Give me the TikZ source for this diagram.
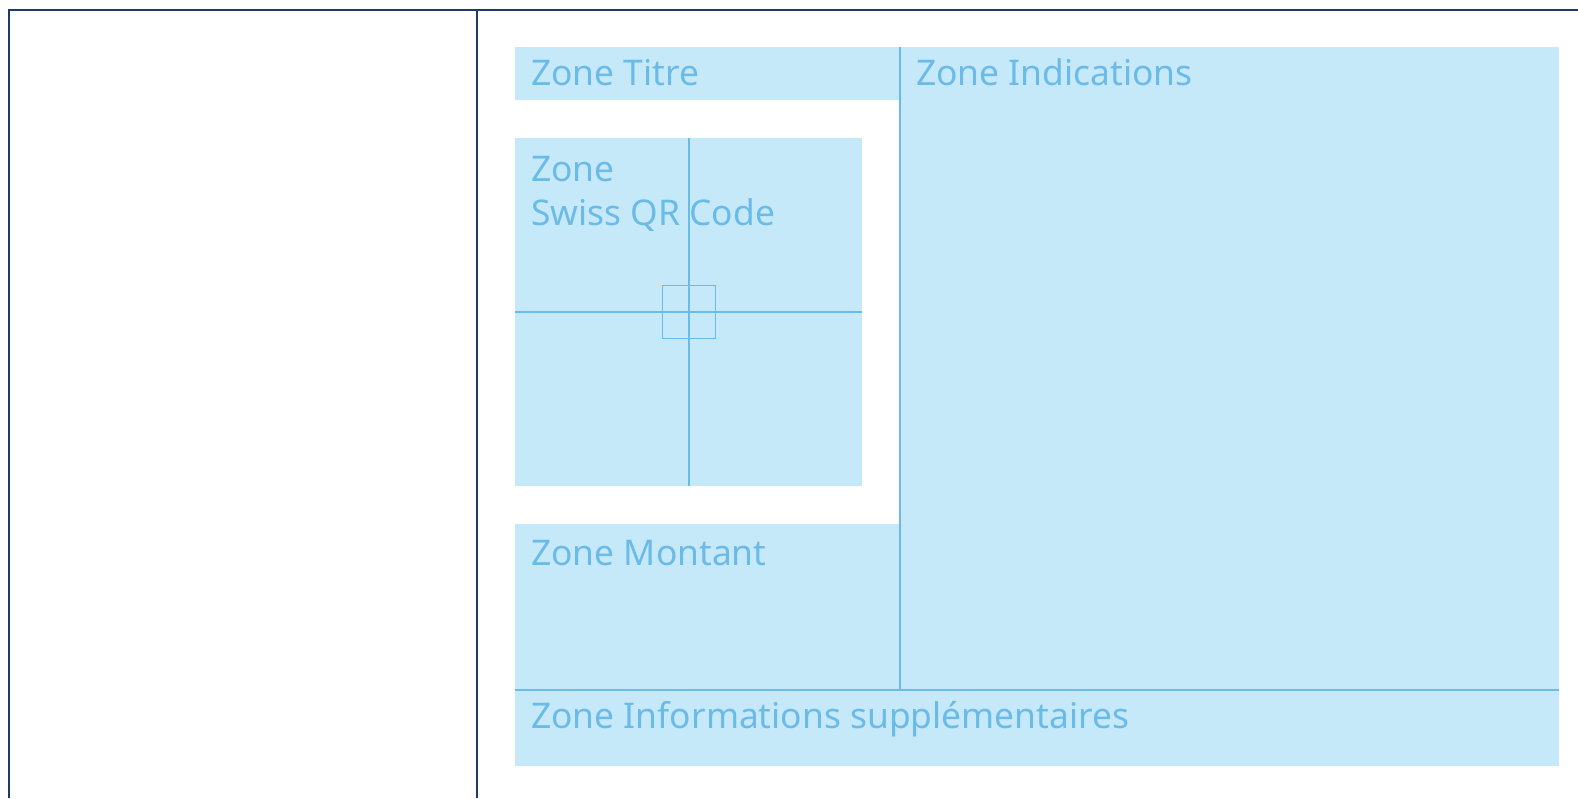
\documentclass[tikz,border=0pt]{standalone}
\usepackage{fontspec}
\setmainfont{Noto Sans}
\definecolor{zonefill}{HTML}{C6E9F9}
\definecolor{zonetext}{HTML}{6BBBE8}
\definecolor{frameblue}{HTML}{1E3A66}
\begin{document}
\begin{tikzpicture}[x=1pt,y=-1pt,
  zonebox/.style={fill=zonefill,draw=none},
  zonelabel/.style={anchor=base west,inner sep=0pt,text=zonetext,font=\fontsize{35.4}{44}\selectfont},
  guide/.style={draw=zonetext,line width=1.3pt},
  framerule/.style={draw=frameblue,line width=2pt}]
\useasboundingbox (0,0) rectangle (1578,798);
% frame
\coordinate (ftl) at (9,10);
\coordinate (ftr) at (1578,10);
\coordinate (fbl) at (9,798);
\coordinate (dt) at (477,10);
\coordinate (db) at (477,798);
\draw[framerule] (fbl) -- (ftl) -- (ftr);
\draw[framerule] (dt) -- (db);
% zones
\fill[zonebox] (515,47) rectangle (900,100);
\fill[zonebox] (900,47) rectangle (1559,690);
\fill[zonebox] (515,138) rectangle (862,486);
\fill[zonebox] (515,524) rectangle (900,690);
\fill[zonebox] (515,690) rectangle (1559,766);
% guides
\draw[guide] (900,47) -- (900,690);
\draw[guide] (515,690) -- (1559,690);
\draw[guide] (515,312) -- (862,312);
\draw[guide] (689,138) -- (689,486);
\draw[guide] (662.5,285.5) rectangle (715.5,338.5);
% labels
\node[zonelabel] (titre) at (531,85.5) {Zone Titre};
\node[zonelabel] (indic) at (916,85.5) {Zone Indications};
\node[zonelabel] (qr1) at (531,181) {Zone};
\node[zonelabel] (qr2) at (531,225.5) {Swiss QR Code};
\node[zonelabel] (mont) at (531,565) {Zone Montant};
\node[zonelabel] (info) at (531,728.5) {Zone Informations supplémentaires};
\end{tikzpicture}
\end{document}
